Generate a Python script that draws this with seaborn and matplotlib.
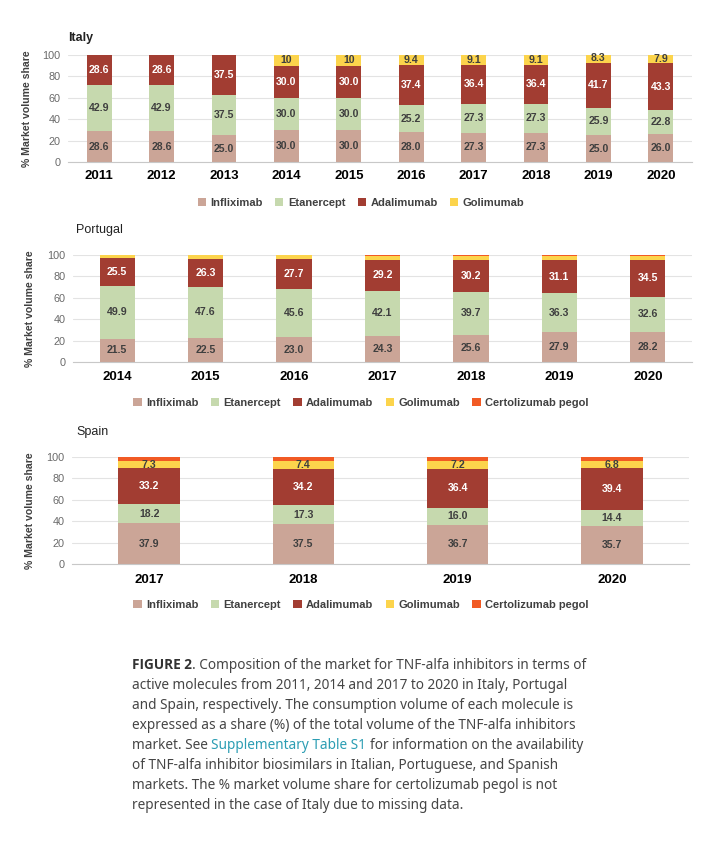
import numpy as np
import pandas as pd
import matplotlib
matplotlib.use("Agg")
import matplotlib.pyplot as plt
import seaborn as sns
from matplotlib.patches import Patch
from matplotlib import font_manager

# ---- data ----
molecules = ["Infliximab", "Etanercept", "Adalimumab", "Golimumab", "Certolizumab pegol"]

italy_years = [2011, 2012, 2013, 2014, 2015, 2016, 2017, 2018, 2019, 2020]
italy_infliximab = [28.6, 28.6, 25.0, 30.0, 30.0, 28.0, 27.3, 27.3, 25.0, 26.0]
italy_etanercept = [42.9, 42.9, 37.5, 30.0, 30.0, 25.2, 27.3, 27.3, 25.9, 22.8]
italy_adalimumab = [28.6, 28.6, 37.5, 30.0, 30.0, 37.4, 36.4, 36.4, 41.7, 43.3]
italy_golimumab = [0, 0, 0, 10, 10, 9.4, 9.1, 9.1, 8.3, 7.9]

portugal_years = [2014, 2015, 2016, 2017, 2018, 2019, 2020]
portugal_infliximab = [21.5, 22.5, 23.0, 24.3, 25.6, 27.9, 28.2]
portugal_etanercept = [49.9, 47.6, 45.6, 42.1, 39.7, 36.3, 32.6]
portugal_adalimumab = [25.5, 26.3, 27.7, 29.2, 30.2, 31.1, 34.5]
portugal_golimumab = [3.1, 3.6, 3.7, 3.2, 3.3, 3.4, 3.5]
portugal_certolizumab = [0, 0, 0, 1.2, 1.2, 1.3, 1.2]

spain_years = [2017, 2018, 2019, 2020]
spain_infliximab = [37.9, 37.5, 36.7, 35.7]
spain_etanercept = [18.2, 17.3, 16.0, 14.4]
spain_adalimumab = [33.2, 34.2, 36.4, 39.4]
spain_golimumab = [7.3, 7.4, 7.2, 6.8]
spain_certolizumab = [3.4, 3.6, 3.7, 3.7]

colors = {"Infliximab": "#cba597", "Etanercept": "#c6d9ae", "Adalimumab": "#a23d32",
          "Golimumab": "#fcd44c", "Certolizumab pegol": "#f15a24"}
label_colors = {"Infliximab": "#3f3f3f", "Etanercept": "#3f3f3f", "Adalimumab": "white",
                "Golimumab": "#3f3f3f"}

caption_lines = [
    "active molecules from 2011, 2014 and 2017 to 2020 in Italy, Portugal",
    "and Spain, respectively. The consumption volume of each molecule is",
    "expressed as a share (%) of the total volume of the TNF-alfa inhibitors",
    None,
    "of TNF-alfa inhibitor biosimilars in Italian, Portuguese, and Spanish",
    "markets. The % market volume share for certolizumab pegol is not",
    "represented in the case of Italy due to missing data.",
]

# ---- style ----
sns.set_style("white")
available = {f.name for f in font_manager.fontManager.ttflist}
narrow = "Liberation Sans Narrow" if "Liberation Sans Narrow" in available else "Liberation Sans"
plt.rcParams["font.family"] = [narrow, "DejaVu Sans"]
caption_font = ["Noto Sans", "DejaVu Sans"]

W, H = 709, 844
fig = plt.figure(figsize=(W / 100, H / 100), dpi=100)


def px_box(left, right, top, bottom):
    return [left / W, 1 - bottom / H, (right - left) / W, (bottom - top) / H]


def stack_chart(box, years, layers, labelled, title, title_xy, title_weight,
                legend_y, ylab_x, year_pad):
    ax = fig.add_axes(box)
    df = pd.DataFrame(layers, index=years)
    cum = df.cumsum(axis=1)
    xcat = [str(y) for y in years]
    # tallest cumulative first, smaller ones painted over it
    for mol in reversed(df.columns):
        sns.barplot(x=xcat, y=cum[mol].values, color=colors[mol], width=0.4,
                    saturation=1, linewidth=0, ax=ax)
    for i, yr in enumerate(years):
        for mol in labelled:
            v = df.loc[yr, mol]
            if v == 0:
                continue
            txt = f"{v:g}" if mol == "Golimumab" else f"{v:.1f}"
            ax.text(i, cum.loc[yr, mol] - v / 2, txt, ha="center", va="center",
                    fontsize=7.6, fontweight="bold", color=label_colors[mol])
    ax.set_ylim(0, 100)
    ax.set_xlim(-0.5, len(years) - 0.5)
    ax.set_yticks(range(0, 101, 20))
    ax.yaxis.grid(True, color="#e3e3e3", lw=0.8)
    ax.set_axisbelow(True)
    for s in ["left", "right", "top"]:
        ax.spines[s].set_visible(False)
    ax.spines["bottom"].set_color("#c8c8c8")
    ax.spines["bottom"].set_linewidth(0.8)
    ax.tick_params(axis="y", length=0, pad=5.5, labelsize=7.8, labelcolor="#6a6a6a")
    ax.tick_params(axis="x", length=0, pad=year_pad, labelsize=9.5, labelcolor="black")
    for t in ax.get_xticklabels():
        t.set_fontweight("bold")
    ax.set_xlabel("")
    ax.set_ylabel("% Market volume share", fontsize=7.6, fontweight="bold", color="#404040")
    ax.yaxis.set_label_coords(ylab_x, 0.5)

    fig.text(title_xy[0] / W, 1 - title_xy[1] / H, title, fontsize=9,
             fontweight=title_weight, color="#222222", va="center", ha="left")

    handles = [Patch(facecolor=colors[m], edgecolor="none") for m in df.columns]
    fig.legend(handles, list(df.columns), loc="center", bbox_to_anchor=(361 / W, 1 - legend_y / H),
               ncol=len(handles), frameon=False, handlelength=0.75, handleheight=0.75,
               handletextpad=0.4, columnspacing=1.1,
               prop={"family": [narrow, "DejaVu Sans"], "weight": "bold", "size": 8.0},
               labelcolor="#404040")
    return ax


stack_chart(px_box(68, 692, 55, 162), italy_years,
            {"Infliximab": italy_infliximab, "Etanercept": italy_etanercept,
             "Adalimumab": italy_adalimumab, "Golimumab": italy_golimumab},
            ["Infliximab", "Etanercept", "Adalimumab", "Golimumab"],
            "Italy", (68, 38), "bold", 203, (32 - 68) / 624, 6.0)

stack_chart(px_box(73, 692, 255, 362), portugal_years,
            {"Infliximab": portugal_infliximab, "Etanercept": portugal_etanercept,
             "Adalimumab": portugal_adalimumab, "Golimumab": portugal_golimumab,
             "Certolizumab pegol": portugal_certolizumab},
            ["Infliximab", "Etanercept", "Adalimumab"],
            "Portugal", (76, 230), "normal", 403, (35 - 73) / 619, 6.5)

stack_chart(px_box(72, 689, 457, 564), spain_years,
            {"Infliximab": spain_infliximab, "Etanercept": spain_etanercept,
             "Adalimumab": spain_adalimumab, "Golimumab": spain_golimumab,
             "Certolizumab pegol": spain_certolizumab},
            ["Infliximab", "Etanercept", "Adalimumab", "Golimumab"],
            "Spain", (76, 432), "normal", 605, (35 - 72) / 617, 7.0)

# ---- caption ----
renderer = fig.canvas.get_renderer()
cap_x = 132
cap_size = 9.8
cap_color = "#454545"
base0 = 669
step = 20


def put(x, y, s, family=caption_font, **kw):
    t = fig.text(x / W, 1 - y / H, s, fontsize=cap_size, family=family,
                 va="baseline", ha="left", **kw)
    return t, t.get_window_extent(renderer).width


def space_width():
    t1 = fig.text(0, 0, "x x", fontsize=cap_size, family=caption_font)
    t2 = fig.text(0, 0, "xx", fontsize=cap_size, family=caption_font)
    w = t1.get_window_extent(renderer).width - t2.get_window_extent(renderer).width
    t1.remove()
    t2.remove()
    return w


sp = space_width()
t, w = put(cap_x, base0, "FIGURE 2", family=["Open Sans", "DejaVu Sans"],
           fontweight="bold", color="#333333")
put(cap_x + w, base0, ". Composition of the market for TNF-alfa inhibitors in terms of", color=cap_color)

for k, line in enumerate(caption_lines):
    y = base0 + step * (k + 1)
    if line is None:
        x = cap_x
        _, w = put(x, y, "market. See", color=cap_color)
        x += w + sp
        _, w = put(x, y, "Supplementary Table S1", color="#2b9db3")
        x += w + sp
        put(x, y, "for information on the availability", color=cap_color)
    else:
        put(cap_x, y, line, color=cap_color)

fig.savefig("out.png", dpi=100, facecolor="white")
